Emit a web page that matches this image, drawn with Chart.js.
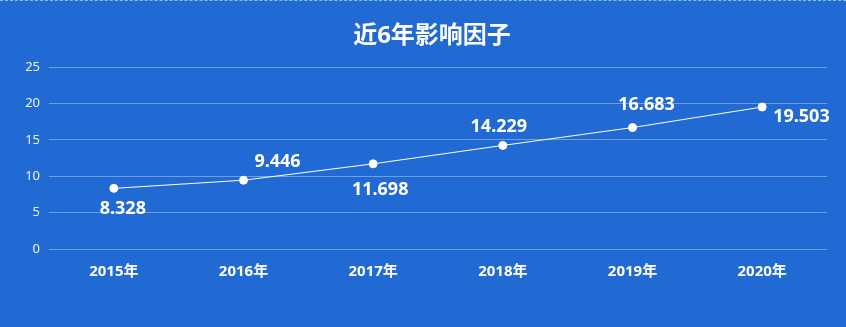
<!DOCTYPE html>
<html>
<head>
<meta charset="utf-8">
<script src="https://cdn.jsdelivr.net/npm/chart.js@4"></script>
<style>
  html, body { margin: 0; padding: 0; background: #216ad4; }
  #wrap { position: relative; width: 846px; height: 327px; }
  #topline { position: absolute; left: 0; top: 0; width: 846px; border-top: 1px dashed rgba(200,220,240,0.7); }
</style>
</head>
<body>
<div id="wrap">
  <canvas id="chart" width="846" height="327"></canvas>
  <div id="topline"></div>
</div>
<script>
const chartTitle = '近6年影响因子';
const years = ['2015年', '2016年', '2017年', '2018年', '2019年', '2020年'];
const impactFactor = [8.328, 9.446, 11.698, 14.229, 16.683, 19.503];
const labelSide = ['down', 'upRightFar', 'downFar', 'upLeft', 'upRight', 'right'];

const FONT = '"Noto Sans", "Noto Sans CJK SC", sans-serif';

// title, a bit right of the canvas centre like the original
const titlePlugin = {
    id: 'titlePlugin',
    afterDraw(chart) {
        const ctx = chart.ctx;
        ctx.save();
        ctx.fillStyle = '#fff';
        ctx.font = 'bold 24px ' + FONT;
        ctx.textAlign = 'center';
        ctx.textBaseline = 'middle';
        ctx.fillText(chartTitle, chart.width / 2 + 9, 36);
        ctx.restore();
    }
};

// draws the value next to each point
const valueLabels = {
    id: 'valueLabels',
    afterDatasetsDraw(chart) {
        const ctx = chart.ctx;
        const meta = chart.getDatasetMeta(0);
        ctx.save();
        ctx.fillStyle = '#fff';
        ctx.font = 'bold 18px ' + FONT;
        ctx.textBaseline = 'middle';
        meta.data.forEach((pt, i) => {
            const txt = impactFactor[i].toFixed(3);
            const side = labelSide[i];
            let x = pt.x, y = pt.y + 1.5;
            ctx.textAlign = 'center';
            if (side === 'down') { x += 9; y += 19; }
            else if (side === 'downFar') { x += 7; y += 25; }
            else if (side === 'upLeft') { x -= 4; y -= 20; }
            else if (side === 'upRight') { x += 14; y -= 24; }
            else if (side === 'upRightFar') { x += 34; y -= 20; }
            else if (side === 'right') { ctx.textAlign = 'left'; x += 11; y += 8; }
            ctx.fillText(txt, x, y);
        });
        ctx.restore();
    }
};

new Chart(document.getElementById('chart'), {
    type: 'line',
    data: {
        labels: years,
        datasets: [{
            data: impactFactor,
            borderColor: '#fff',
            borderWidth: 1,
            pointBackgroundColor: '#fff',
            pointBorderColor: '#fff',
            pointRadius: 4,
            tension: 0
        }]
    },
    options: {
        responsive: false,
        animation: false,
        layout: { padding: { left: 0, right: 19, top: 67, bottom: 0 } },
        plugins: {
            legend: { display: false },
            tooltip: { enabled: false },
            title: { display: false }
        },
        scales: {
            x: {
                offset: true,
                grid: { display: false },
                border: { display: false },
                ticks: { color: '#fff', padding: 6, font: { family: FONT, size: 15, weight: 'bold' } },
                afterFit(s) { s.height = 78; }
            },
            y: {
                min: 0,
                max: 25,
                ticks: { stepSize: 5, color: '#eef4ff', padding: 9, font: { family: FONT, size: 13 } },
                grid: { color: 'rgba(255,255,255,0.35)', drawTicks: false },
                border: { display: false },
                afterFit(s) { s.width = 49; }
            }
        }
    },
    plugins: [valueLabels, titlePlugin]
});
</script>
</body>
</html>
